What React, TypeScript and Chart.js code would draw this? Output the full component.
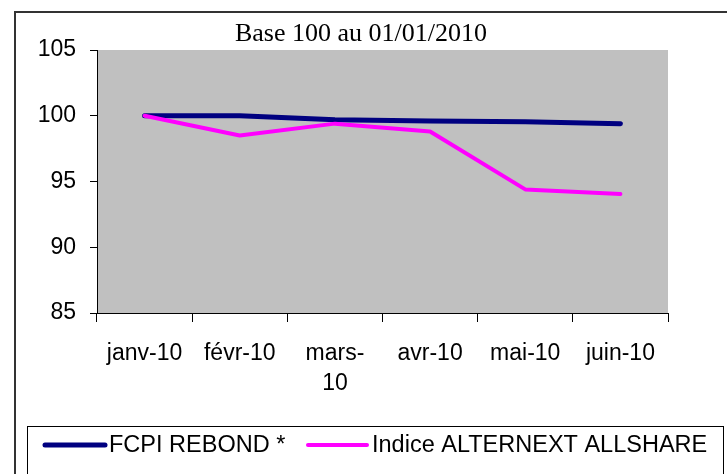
import React, { useEffect, useRef } from "react";
import { Chart, registerables } from "chart.js";

Chart.register(...registerables);

const categories: (string | string[])[] = ["janv-10", "févr-10", ["mars-", "10"], "avr-10", "mai-10", "juin-10"];
const fcpiRebond = [100, 100, 99.7, 99.6, 99.55, 99.4];
const alternextAllshare = [100, 98.5, 99.4, 98.8, 94.4, 94.05];
const yMin = 85;
const yMax = 105;
const yStep = 5;
const titleText = "Base 100 au 01/01/2010";
const seriesNames = ["FCPI REBOND *", "Indice ALTERNEXT ALLSHARE"];
const seriesColors = ["#000080", "#FF00FF"];

const SANS = "'Liberation Sans', Arial, sans-serif";
const SERIF = "'Liberation Serif', 'Times New Roman', serif";

const deco = {
  id: "deco",
  beforeDraw(chart: any) {
    const { ctx, chartArea } = chart;
    ctx.save();
    ctx.fillStyle = "#ffffff";
    ctx.fillRect(0, 0, chart.width, chart.height);
    ctx.fillStyle = "#C0C0C0";
    ctx.fillRect(chartArea.left, chartArea.top, chartArea.right - chartArea.left, chartArea.bottom - chartArea.top);
    // outer border
    ctx.strokeStyle = "#333333";
    ctx.lineWidth = 2;
    ctx.strokeRect(15, 12, 740, 500);
    // title
    ctx.fillStyle = "#000000";
    ctx.font = `26px ${SERIF}`;
    ctx.textAlign = "center";
    ctx.textBaseline = "alphabetic";
    ctx.fillText(titleText, 361, 41);
    // legend box
    ctx.strokeStyle = "#000000";
    ctx.lineWidth = 1;
    ctx.strokeRect(27.5, 426.5, 696, 80);
    const ly = 445;
    const items = [
      { x0: 45, x1: 105, tx: 109, w: 5 },
      { x0: 308, x1: 367, tx: 372, w: 4 },
    ];
    items.forEach((it, i) => {
      ctx.strokeStyle = seriesColors[i];
      ctx.lineWidth = it.w;
      ctx.lineCap = "round";
      ctx.beginPath();
      ctx.moveTo(it.x0, ly);
      ctx.lineTo(it.x1, ly);
      ctx.stroke();
      ctx.fillStyle = "#000000";
      ctx.font = `23.5px ${SANS}`;
      ctx.textAlign = "left";
      ctx.textBaseline = "middle";
      ctx.fillText(seriesNames[i], it.tx, ly + 1);
    });
    ctx.restore();
  },
};

export default function App() {
  const ref = useRef<HTMLCanvasElement>(null);
  useEffect(() => {
    if (!ref.current) return;
    const chart = new Chart(ref.current, {
      type: "line",
      data: {
        labels: categories,
        datasets: [
          {
            label: seriesNames[0],
            data: fcpiRebond,
            borderColor: seriesColors[0],
            backgroundColor: seriesColors[0],
            borderWidth: 5,
            pointRadius: 0,
            tension: 0,
            borderCapStyle: "round",
            borderJoinStyle: "round",
            order: 1,
          },
          {
            label: seriesNames[1],
            data: alternextAllshare,
            borderColor: seriesColors[1],
            backgroundColor: seriesColors[1],
            borderWidth: 4,
            pointRadius: 0,
            tension: 0,
            borderCapStyle: "round",
            borderJoinStyle: "round",
            order: 0,
          },
        ],
      },
      options: {
        responsive: false,
        animation: false,
        events: [],
        layout: { padding: { left: 0, top: 50, right: 59, bottom: 0 } },
        plugins: { legend: { display: false }, title: { display: false }, tooltip: { enabled: false } },
        scales: {
          x: {
            type: "category",
            offset: true,
            afterFit(scale: any) {
              scale.height = 161;
            },
            grid: {
              offset: true,
              drawOnChartArea: false,
              drawTicks: true,
              tickLength: 9,
              color: "#000000",
              lineWidth: 1,
            },
            border: { display: true, color: "#000000", width: 1 },
            ticks: {
              color: "#000000",
              font: { family: SANS, size: 23, lineHeight: 1.3 },
              padding: 17,
              maxRotation: 0,
              minRotation: 0,
              autoSkip: false,
            },
          },
          y: {
            min: yMin,
            max: yMax,
            afterFit(scale: any) {
              scale.width = 97;
            },
            grid: {
              drawOnChartArea: false,
              drawTicks: true,
              tickLength: 7,
              color: "#000000",
              lineWidth: 1,
            },
            border: { display: true, color: "#000000", width: 1 },
            ticks: {
              stepSize: yStep,
              color: "#000000",
              font: { family: SANS, size: 23 },
              padding: 14,
            },
          },
        },
      },
      plugins: [deco],
    });
    return () => chart.destroy();
  }, []);
  return (
    <div style={{ position: "fixed", left: 0, top: 0, width: 727, height: 474, background: "#fff" }}>
      <canvas ref={ref} width={727} height={474} style={{ display: "block" }} />
    </div>
  );
}
